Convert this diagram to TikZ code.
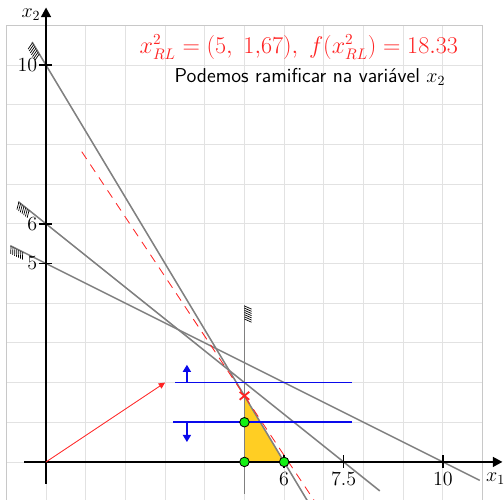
\documentclass[tikz,border=0pt]{standalone}
\usepackage{tikz}
\usetikzlibrary{arrows.meta,calc}
\definecolor{cGrid}{RGB}{226,226,226}
\definecolor{cFrame}{RGB}{200,200,200}
\definecolor{cLine}{RGB}{128,128,128}
\definecolor{cRed}{RGB}{255,35,35}
\definecolor{cBlue}{RGB}{10,10,235}
\definecolor{cYellow}{RGB}{255,206,35}
\definecolor{cGreen}{RGB}{20,240,20}
\tikzset{
    axis/.style={line width=1.1pt, -{Triangle[length=2.4mm,width=2.5mm]}},
    constr/.style={cLine, line width=1.1pt},
    hatchln/.style={black, line width=0.5pt},
    objline/.style={cRed, semithick, dash pattern=on 2.2mm off 1.7mm},
    grad/.style={cRed, line width=0.6pt, -{Triangle[length=1.6mm,width=1.5mm]}},
    branch/.style={cBlue, line width=1.3pt},
    barr/.style={cBlue, line width=1.3pt, -{Triangle[length=1.8mm,width=2mm]}},
    pt/.style={circle, draw=black, fill=cGreen, inner sep=0pt,
        minimum size=2.4mm, semithick},
    tickmark/.style={line width=1pt},
    ticklbl/.style={font=\Large, inner sep=1pt},
}
% hatch marks at the start of a constraint line
\newcommand{\hatchat}[3]{% point, angle of line, side
    \begin{scope}[shift={#1}, rotate=#2]
        \foreach \s in {0.02,0.075,...,0.38}
            \draw[hatchln] (\s,0) -- ++(0.08,#3*0.18);
    \end{scope}}

\begin{document}
\begin{tikzpicture}

\clip (-1.16,-0.957) rectangle (11.54,11.64);

% ================================================================
%  GRID
% ================================================================
\draw[cGrid, line width=0.6pt] (-1,-1) grid (11,11);
\draw[cFrame, line width=0.6pt] (-1,-1) rectangle (11,11);

% ================================================================
%  FEASIBLE REGION (branch x_2 <= 1 side)
% ================================================================
\coordinate (p50) at (5,0);
\coordinate (p60) at (6,0);
\coordinate (prl) at (5,5/3);
\fill[cYellow] (p50) -- (p60) -- (prl) -- cycle;

% ================================================================
%  CONSTRAINTS
% ================================================================
% 5x1 + 3x2 <= 30
\coordinate (c1s) at (-0.35,10.58);
\coordinate (c1e) at (6.7,-1.17);
\draw[constr] (c1s) -- (c1e);
\hatchat{(c1s)}{-59}{-1}

% 4x1 + 5x2 <= 30
\coordinate (c2s) at (-0.7,6.56);
\coordinate (c2e) at (8.41,-0.73);
\draw[constr] (c2s) -- (c2e);
\hatchat{(c2s)}{-38.66}{-1}

% x1 + 2x2 <= 10
\coordinate (c3s) at (-0.9,5.45);
\coordinate (c3e) at (10.93,-0.465);
\draw[constr] (c3s) -- (c3e);
\hatchat{(c3s)}{-26.57}{-1}

% x1 >= 5
\coordinate (c4s) at (5,3.95);
\coordinate (c4e) at (5,-0.8);
\draw[constr] (c4s) -- (c4e);
\hatchat{(c4s)}{-90}{1}

% objective 3x1 + 2x2 = 18.33
\coordinate (obs) at (0.9,7.817);
\coordinate (obe) at (6.85,-1.11);
\draw[objline] (obs) -- (obe);

% ================================================================
%  AXES
% ================================================================
\coordinate (xa) at (-0.55,0);
\coordinate (xb) at (11.5,0);
\coordinate (ya) at (0,-0.55);
\coordinate (yb) at (0,11.45);
\draw[axis] (xa) -- (xb);
\draw[axis] (ya) -- (yb);
\node[font=\Large] (lx1) at (11.33,-0.42) {$x_1$};
\node[font=\Large] (lx2) at (-0.38,11.28) {$x_2$};

\foreach \v in {10,6,5}
    \draw[tickmark] (-0.18,\v) -- (0.15,\v)
        node[ticklbl, anchor=east] at (-0.17,\v) {\v};
\foreach \v/\t in {6/6,7.5/7.5,10/10}
    \draw[tickmark] (\v,0.17) -- (\v,-0.15)
        node[ticklbl, anchor=north] at (\v,-0.2) {\t};

% gradient of the objective
\coordinate (o) at (0,0);
\coordinate (gr) at (3,2);
\draw[grad] (o) -- (gr);

% ================================================================
%  BRANCHING ON x_2
% ================================================================
\coordinate (b2s) at (3.25,2);
\coordinate (b2e) at (7.72,2);
\coordinate (b1s) at (3.2,1);
\coordinate (b1e) at (7.72,1);
\draw[branch] (b2s) -- (b2e);
\draw[branch] (b1s) -- (b1e);
\draw[barr] (3.55,2) -- (3.55,2.45);
\draw[barr] (3.55,1) -- (3.55,0.5);

% LP optimum
\draw[cRed, line width=1.3pt] ($(prl)+(-0.12,-0.1)$) -- ($(prl)+(0.12,0.1)$);
\draw[cRed, line width=1.3pt] ($(prl)+(-0.12,0.1)$) -- ($(prl)+(0.12,-0.1)$);

% integer points
\node[pt] (q51) at (5,1) {};
\node[pt] (q50) at (p50) {};
\node[pt] (q60) at (p60) {};

% ================================================================
%  TEXT
% ================================================================
\node[font=\fontsize{16}{19}\selectfont, text=cRed] (sol) at (6.37,10.45)
    {$x_{RL}^{2} = (5,\ 1{,}67),\ f(x_{RL}^{2}) = 18.33$};
\node[font=\Large\sffamily] (msg) at (6.65,9.7)
    {Podemos ramificar na variável $x_2$};

\end{tikzpicture}
\end{document}
